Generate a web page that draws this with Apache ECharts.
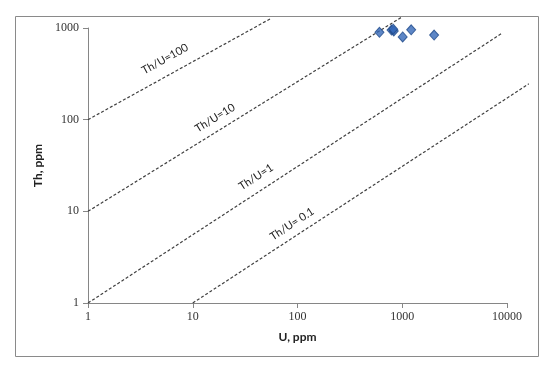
<!DOCTYPE html>
<html>
<head>
<meta charset="utf-8">
<script src="https://cdn.jsdelivr.net/npm/echarts@6/dist/echarts.min.js"></script>
<style>
html,body{margin:0;padding:0;background:#fff;}
#chart{width:550px;height:367px;}
</style>
</head>
<body>
<div id="chart"></div>
<script>
// Data (U ppm, Th ppm)
const samples = [[606, 898], [790, 950], [830, 930], [820, 970], [1009, 798], [1217, 956], [2015, 837]];
// Reference lines as drawn (endpoints in data units)
const lineTh100 = [[1, 100], [55, 1260]];
const lineTh10 = [[1, 10], [1000, 1325]];
const lineTh1 = [[1, 1], [9100, 887]];
const lineTh01 = [[10, 1], [16150, 246]];
const lineLabels = ['Th/U=100', 'Th/U=10', 'Th/U=1', 'Th/U= 0.1'];
const xTicks = [1, 10, 100, 1000, 10000];
const yTicks = [1, 10, 100, 1000];

const chart = echarts.init(document.getElementById('chart'));
const dashStyle = {color: '#404040', width: 1.2, type: [3, 2]};
// second, hidden grid with same scale but wider x extent so the lines may run past 10000
const extDecades = 4.3;
const plotLeft = 88, plotW = 419;
function refLine(d) {
  return {type: 'line', data: d, symbol: 'none', clip: false, silent: true,
    xAxisIndex: 1, yAxisIndex: 1,
    lineStyle: dashStyle, z: 2, animation: false};
}
const labelFont = {fontFamily: 'Lato', fontSize: 11, fill: '#222'};
const axisFmt = v => String(Math.round(v));
chart.setOption({
  animation: false,
  grid: [
    {left: plotLeft, top: 28, width: plotW, bottom: 64},
    {left: plotLeft, top: 28, width: plotW * extDecades / 4, bottom: 64}
  ],
  xAxis: [{
    type: 'log', logBase: 10, min: xTicks[0], max: xTicks[xTicks.length - 1], gridIndex: 0,
    name: 'U, ppm', nameLocation: 'middle', nameGap: 28,
    nameTextStyle: {fontFamily: 'Lato', fontWeight: 'bold', fontSize: 12, color: '#222'},
    axisLine: {lineStyle: {color: '#868686', width: 1}},
    axisTick: {show: true, length: 5, lineStyle: {color: '#868686'}},
    axisLabel: {fontFamily: 'Liberation Serif', fontSize: 12, color: '#333', margin: 8, formatter: axisFmt},
    splitLine: {show: false}, minorTick: {show: false}
  }, {
    type: 'log', logBase: 10, min: 1, max: Math.pow(10, extDecades), gridIndex: 1, show: false,
    splitLine: {show: false}
  }],
  yAxis: [{
    type: 'log', logBase: 10, min: yTicks[0], max: yTicks[yTicks.length - 1], gridIndex: 0,
    name: 'Th, ppm', nameLocation: 'middle', nameGap: 44,
    nameTextStyle: {fontFamily: 'Lato', fontWeight: 'bold', fontSize: 12, color: '#222'},
    axisLine: {lineStyle: {color: '#868686', width: 1}},
    axisTick: {show: true, length: 5, lineStyle: {color: '#868686'}},
    axisLabel: {fontFamily: 'Liberation Serif', fontSize: 12, color: '#333', margin: 9, formatter: axisFmt},
    splitLine: {show: false}, minorTick: {show: false}
  }, {
    type: 'log', logBase: 10, min: yTicks[0], max: yTicks[yTicks.length - 1], gridIndex: 1, show: false,
    splitLine: {show: false}
  }],
  graphic: [
    {type: 'rect', shape: {x: 15.5, y: 16.5, width: 523, height: 340}, style: {fill: 'none', stroke: '#8a8a8a', lineWidth: 1}, z: -1},
    {type: 'text', x: 165, y: 59, rotation: 29 * Math.PI / 180, style: Object.assign({text: lineLabels[0], align: 'center', verticalAlign: 'middle'}, labelFont)},
    {type: 'text', x: 215, y: 118, rotation: 31.5 * Math.PI / 180, style: Object.assign({text: lineLabels[1], align: 'center', verticalAlign: 'middle'}, labelFont)},
    {type: 'text', x: 256, y: 177, rotation: 33 * Math.PI / 180, style: Object.assign({text: lineLabels[2], align: 'center', verticalAlign: 'middle'}, labelFont)},
    {type: 'text', x: 292, y: 224, rotation: 33 * Math.PI / 180, style: Object.assign({text: lineLabels[3], align: 'center', verticalAlign: 'middle'}, labelFont)}
  ],
  series: [
    refLine(lineTh100), refLine(lineTh10), refLine(lineTh1), refLine(lineTh01),
    {type: 'scatter', data: samples, symbol: 'diamond', symbolSize: [9, 10], clip: false, z: 5,
      xAxisIndex: 0, yAxisIndex: 0,
      itemStyle: {color: '#3568b8', borderColor: '#1f4a8a', borderWidth: 1}}
  ]
});
</script>
</body>
</html>
